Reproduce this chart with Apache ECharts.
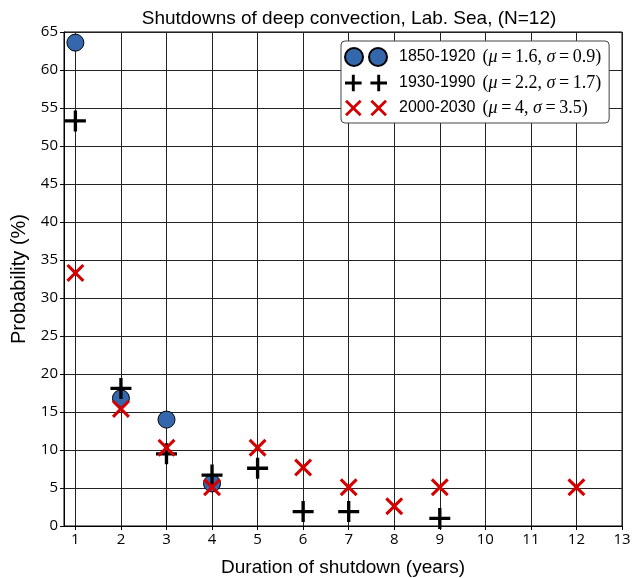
<!DOCTYPE html>
<html>
<head>
<meta charset="utf-8">
<script src="https://cdn.jsdelivr.net/npm/echarts@6/dist/echarts.min.js"></script>
<style>
  html, body { margin: 0; padding: 0; background: #fff; }
  #chart { width: 633px; height: 578px; }
</style>
</head>
<body>
<div id="chart"></div>
<script>
// durations (years) and probabilities (%) per period
const periods = ['1850-1920', '1930-1990', '2000-2030']
const mus = ['1.6', '2.2', '4']
const sigmas = ['0.9', '1.7', '3.5']

const durA = [1, 2, 3, 4]
const probA = [63.6, 16.8, 14.0, 5.6]

const durB = [1, 2, 3, 4, 5, 6, 7, 9]
const probB = [53.3, 18.1, 9.5, 6.7, 7.6, 1.9, 1.9, 1.0]

const durC = [1, 2, 3, 4, 5, 6, 7, 8, 9, 12]
const probC = [33.3, 15.4, 10.3, 5.1, 10.3, 7.7, 5.1, 2.6, 5.1, 5.1]

const xTicks = [1, 2, 3, 4, 5, 6, 7, 8, 9, 10, 11, 12, 13]

const pair = (xs, ys) => xs.map((x, i) => [x, ys[i]])

const plusPath = 'path://M9.25,0h3.5v9.25h9.25v3.5h-9.25v9.25h-3.5v-9.25h-9.25v-3.5h9.25z'
const crossPath = 'path://M2.4,0L10,7.6L17.6,0L20,2.4L12.4,10L20,17.6L17.6,20L10,12.4L2.4,20L0,17.6L7.6,10L0,2.4z'

const circleIcon = 'path://M0,9a9,9 0 1,0 18,0a9,9 0 1,0 -18,0zM24,9a9,9 0 1,0 18,0a9,9 0 1,0 -18,0z'
const plusIcon = 'path://M7,0h3v7h7v3h-7v7h-3v-7h-7v-3h7zM33,0h3v7h7v3h-7v7h-3v-7h-7v-3h7z'
const crossIcon = 'path://M2,0L8.5,6.5L15,0L17,2L10.5,8.5L17,15L15,17L8.5,10.5L2,17L0,15L6.5,8.5L0,2zM28,0L34.5,6.5L41,0L43,2L36.5,8.5L43,15L41,17L34.5,10.5L28,17L26,15L32.5,8.5L26,2z'

const chart = echarts.init(document.getElementById('chart'))

const option = {
  animation: false,
  backgroundColor: '#fff',
  title: {
    text: 'Shutdowns of deep convection, Lab. Sea, (N=12)',
    left: 344,
    textAlign: 'center',
    top: 4,
    textStyle: { fontFamily: 'Liberation Sans', fontSize: 19, fontWeight: 'normal', color: '#000' }
  },
  grid: {
    left: 64, right: 11, top: 32, bottom: 52,
    outerBoundsMode: 'none',
    show: true, borderColor: '#000', borderWidth: 1
  },
  legend: {
    orient: 'vertical',
    left: 341,
    top: 41,
    padding: [6, 8, 6, 3],
    itemGap: 7,
    itemWidth: 42,
    itemHeight: 21,
    backgroundColor: '#fff',
    borderColor: '#444',
    borderWidth: 1,
    borderRadius: 4,
    formatter: (name) => {
      const i = periods.indexOf(name)
      return '{p|' + name + '}{s|(}{i|μ}{s|\u2009=\u2009' + mus[i] + ', }{i|σ}{s|\u2009=\u2009' + sigmas[i] + ')}'
    },
    textStyle: {
      rich: {
        p: { fontFamily: 'Liberation Sans', fontSize: 16, color: '#000', padding: [0, 7, 0, 7] },
        s: { fontFamily: 'Liberation Serif', fontSize: 18, color: '#000' },
        i: { fontFamily: 'Liberation Serif', fontSize: 18, fontStyle: 'italic', color: '#000' }
      }
    },
    data: [
      { name: periods[0], icon: circleIcon },
      { name: periods[1], icon: plusIcon },
      { name: periods[2], icon: crossIcon }
    ]
  },
  xAxis: {
    type: 'value',
    min: 0.75,
    max: 13,
    name: 'Duration of shutdown (years)',
    nameLocation: 'middle',
    nameGap: 32,
    nameTextStyle: { fontFamily: 'Liberation Sans', fontSize: 19, color: '#000' },
    axisLine: { show: true, lineStyle: { color: '#000', width: 1 } },
    axisTick: { show: true, inside: false, length: 4, customValues: xTicks, lineStyle: { color: '#000' } },
    axisLabel: { customValues: xTicks, margin: 6, fontFamily: 'Open Sans', fontSize: 15, color: '#000' },
    splitLine: { show: true, lineStyle: { color: '#222', width: 1 } }
  },
  yAxis: {
    type: 'value',
    min: 0,
    max: 65,
    interval: 5,
    name: 'Probability (%)',
    nameLocation: 'middle',
    nameGap: 34,
    nameTextStyle: { fontFamily: 'Liberation Sans', fontSize: 20, color: '#000' },
    axisLine: { show: true, lineStyle: { color: '#000', width: 1 } },
    axisTick: { show: true, inside: false, length: 4, lineStyle: { color: '#000' } },
    axisLabel: { margin: 6, fontFamily: 'Open Sans', fontSize: 15, color: '#000' },
    splitLine: { show: true, lineStyle: { color: '#222', width: 1 } }
  },
  series: [
    {
      name: periods[0],
      type: 'scatter',
      data: pair(durA, probA),
      symbol: 'circle',
      symbolSize: 17,
      itemStyle: { color: '#3567ac', borderColor: '#000', borderWidth: 1, opacity: 1 }
    },
    {
      name: periods[1],
      type: 'scatter',
      data: pair(durB, probB),
      symbol: plusPath,
      symbolSize: 21,
      itemStyle: { color: '#000', opacity: 1 }
    },
    {
      name: periods[2],
      type: 'scatter',
      data: pair(durC, probC),
      symbol: crossPath,
      symbolSize: 18,
      itemStyle: { color: '#d40000', opacity: 1 }
    }
  ]
}

chart.setOption(option)
</script>
</body>
</html>
